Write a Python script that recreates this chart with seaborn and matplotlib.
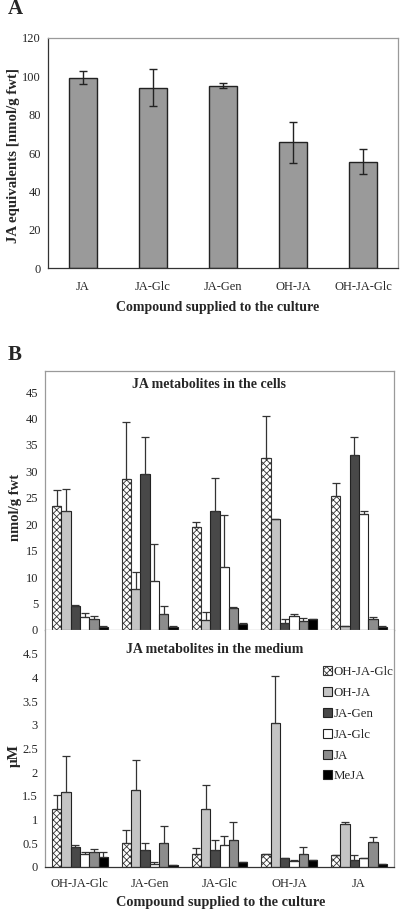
import numpy as np
import pandas as pd
import matplotlib
matplotlib.use("Agg")
import matplotlib.pyplot as plt
from matplotlib.container import BarContainer
import seaborn as sns

# Panel A: total JA equivalents in the cells
supplied_a = ['JA', 'JA-Glc', 'JA-Gen', 'OH-JA', 'OH-JA-Glc']
ja_equiv = [99.2, 94.1, 95.0, 65.5, 55.5]
ja_equiv_err = [3.4, 9.8, 1.3, 10.8, 6.4]

# Panel B: metabolites per supplied compound
supplied_b = ['OH-JA-Glc', 'JA-Gen', 'JA-Glc', 'OH-JA', 'JA']
metabolites = ['OH-JA-Glc', 'OH-JA', 'JA-Gen', 'JA-Glc', 'JA', 'MeJA']

# rows follow metabolites, columns follow supplied_b
cells_mean = [
    [23.4, 28.5, 19.4, 32.6, 25.3],
    [22.6, 7.7, 1.8, 20.9, 0.7],
    [4.6, 29.5, 22.6, 1.3, 33.1],
    [2.5, 9.3, 12.0, 2.7, 21.9],
    [2.1, 3.1, 4.2, 1.6, 2.1],
    [0.6, 0.6, 1.1, 2.0, 0.6],
]
cells_err = [
    [3.0, 10.8, 1.0, 7.8, 2.5],
    [4.1, 3.2, 1.6, 0.1, 0.1],
    [0.2, 7.1, 6.1, 0.7, 3.5],
    [0.8, 7.0, 9.7, 0.3, 0.6],
    [0.6, 1.5, 0.1, 0.6, 0.4],
    [0.1, 0.1, 0.3, 0.1, 0.1],
]
medium_mean = [
    [1.22, 0.50, 0.27, 0.27, 0.25],
    [1.59, 1.63, 1.22, 3.04, 0.90],
    [0.42, 0.35, 0.35, 0.18, 0.15],
    [0.27, 0.06, 0.47, 0.12, 0.18],
    [0.32, 0.50, 0.57, 0.27, 0.53],
    [0.21, 0.04, 0.10, 0.15, 0.06],
]
medium_err = [
    [0.29, 0.27, 0.13, 0.0, 0.0],
    [0.75, 0.63, 0.51, 0.98, 0.05],
    [0.05, 0.15, 0.22, 0.01, 0.10],
    [0.05, 0.05, 0.18, 0.02, 0.0],
    [0.06, 0.37, 0.38, 0.15, 0.10],
    [0.10, 0.0, 0.0, 0.0, 0.0],
]

bar_colors = ['white', '#c4c4c4', '#484848', 'white', '#8c8c8c', '#000000']
EDGE = '#222222'
FRAME = '#9a9a9a'


def long_table(means):
    rows = []
    for m, vals in zip(metabolites, means):
        for s, v in zip(supplied_b, vals):
            rows.append({'supplied': s, 'metabolite': m, 'value': v})
    return pd.DataFrame(rows)


def group_panel(ax, means, errs):
    sns.barplot(data=long_table(means), x='supplied', y='value', hue='metabolite',
                order=supplied_b, hue_order=metabolites, palette=bar_colors,
                edgecolor=EDGE, linewidth=0.8, errorbar=None, legend=False,
                width=0.8, ax=ax)
    bars = [c for c in ax.containers if isinstance(c, BarContainer)]
    for i, cont in enumerate(bars):
        xs = [p.get_x() + p.get_width() / 2 for p in cont.patches]
        hs = [p.get_height() for p in cont.patches]
        if i == 0:
            for p in cont.patches:
                p.set_hatch('xxxxx')
                p.set_edgecolor('#333333')
        ax.errorbar(xs, hs, yerr=[np.zeros(len(hs)), errs[i]], fmt='none',
                    ecolor='#333333', elinewidth=0.9, capsize=2.6, capthick=0.9)
    return bars


def style_axis(ax, ymax, yticks):
    ax.set_xlim(-0.5, 4.5)
    ax.set_ylim(0, ymax)
    ax.set_yticks(yticks)
    ax.set_yticklabels([f"{t:g}" for t in yticks], fontsize=9)
    ax.tick_params(axis='y', length=3, width=0.8, pad=2, color='#444444')
    ax.set_xlabel('')
    ax.set_ylabel('')


sns.set_style("white")
plt.rcParams['font.family'] = ['Liberation Serif', 'DejaVu Serif']
plt.rcParams['hatch.linewidth'] = 0.6

fig = plt.figure(figsize=(4, 9.11), dpi=100)

# ---- Panel A ----
ax_a = fig.add_axes([0.12, 0.7058, 0.875, 0.2525])
df_a = pd.DataFrame({'compound': supplied_a, 'value': ja_equiv})
sns.barplot(data=df_a, x='compound', y='value', color='#9a9a9a', width=0.41,
            edgecolor=EDGE, linewidth=1, errorbar=None, ax=ax_a)
xs_a = [p.get_x() + p.get_width() / 2 for p in ax_a.patches]
ax_a.errorbar(xs_a, ja_equiv, yerr=ja_equiv_err, fmt='none', ecolor=EDGE,
              elinewidth=1, capsize=3, capthick=1)
style_axis(ax_a, 120, np.arange(0, 121, 20))
ax_a.set_xticks(range(5))
ax_a.set_xticklabels(supplied_a, fontsize=9)
ax_a.set_xticks(np.arange(-0.5, 5, 1), minor=True)
ax_a.tick_params(axis='x', which='major', length=0, pad=9)
ax_a.tick_params(axis='x', which='minor', length=4, width=0.8, color='#444444')
for side in ['top', 'right']:
    ax_a.spines[side].set_color(FRAME)
for side in ['left', 'bottom']:
    ax_a.spines[side].set_color('#333333')
for sp in ax_a.spines.values():
    sp.set_linewidth(0.9)

# ---- Panel B, cells ----
ax_c = fig.add_axes([0.1125, 0.3085, 0.8725, 0.2843])
group_panel(ax_c, cells_mean, cells_err)
style_axis(ax_c, 49, np.arange(0, 46, 5))
ax_c.set_xticks([])
for sp in ax_c.spines.values():
    sp.set_color(FRAME)
    sp.set_linewidth(0.9)
ax_c.text(0.47, 0.946, 'JA metabolites in the cells', transform=ax_c.transAxes,
          ha='center', va='center', fontsize=10, fontweight='bold')

# ---- Panel B, medium ----
ax_m = fig.add_axes([0.1125, 0.0483, 0.8725, 0.2602])
medium_bars = group_panel(ax_m, medium_mean, medium_err)
style_axis(ax_m, 5, np.arange(0, 4.6, 0.5))
ax_m.set_xticks(range(5))
ax_m.set_xticklabels(supplied_b, fontsize=9)
ax_m.set_xticks(np.arange(-0.5, 5, 1), minor=True)
ax_m.tick_params(axis='x', which='major', length=0, pad=8)
ax_m.tick_params(axis='x', which='minor', length=4, width=0.8, color='#444444')
ax_m.spines['top'].set_visible(False)
for side in ['left', 'right']:
    ax_m.spines[side].set_color(FRAME)
ax_m.spines['bottom'].set_color('#333333')
for sp in ax_m.spines.values():
    sp.set_linewidth(0.9)
ax_m.text(0.487, 0.916, 'JA metabolites in the medium', transform=ax_m.transAxes,
          ha='center', va='center', fontsize=10, fontweight='bold')
ax_m.legend(medium_bars, metabolites, loc='upper left',
            bbox_to_anchor=(0.77, 0.885), frameon=False, fontsize=9.3,
            handlelength=0.7, handleheight=0.7, handletextpad=0.12,
            labelspacing=0.68, borderpad=0.2)

# ---- labels ----
fig.text(0.0375, 0.9905, 'A', fontsize=15, fontweight='bold', ha='center', va='center')
fig.text(0.0375, 0.6103, 'B', fontsize=15, fontweight='bold', ha='center', va='center')
fig.text(0.033, 0.829, 'JA equivalents [nmol/g fwt]', rotation=90, fontsize=10.7,
         fontweight='bold', ha='center', va='center')
fig.text(0.543, 0.663, 'Compound supplied to the culture', fontsize=10,
         fontweight='bold', ha='center', va='center')
fig.text(0.038, 0.4435, 'nmol/g fwt', rotation=90, fontsize=10.5,
         fontweight='bold', ha='center', va='center')
fig.text(0.035, 0.171, 'μM', rotation=90, fontsize=11,
         fontweight='bold', ha='center', va='center')
fig.text(0.552, 0.0095, 'Compound supplied to the culture', fontsize=10.3,
         fontweight='bold', ha='center', va='center')

fig.savefig('out.png', dpi=100)
